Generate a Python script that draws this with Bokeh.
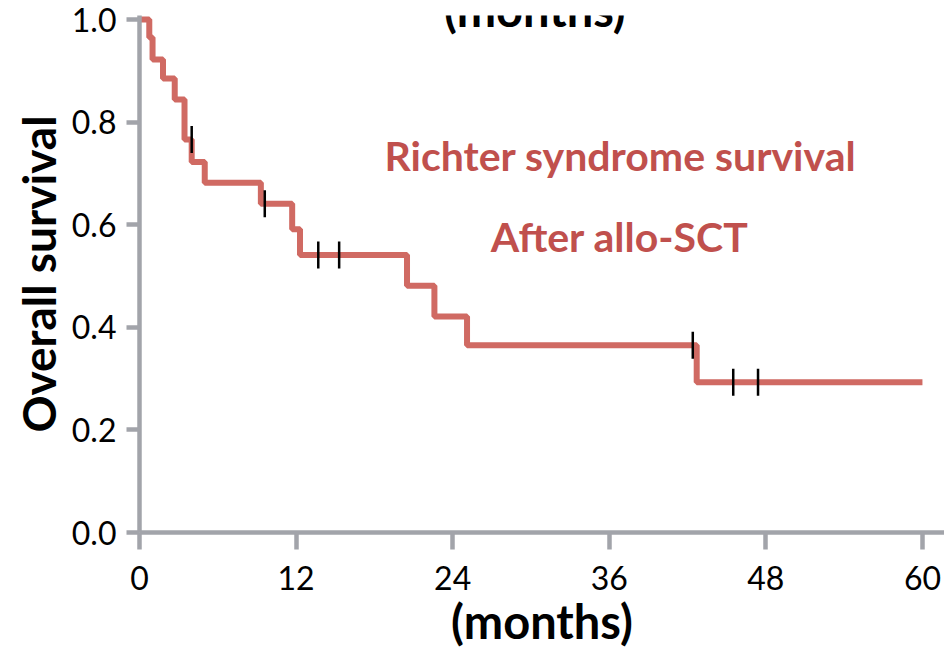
from bokeh.plotting import figure
from bokeh.models import Range1d, Label, FixedTicker
from bokeh.embed import file_html
from bokeh.resources import INLINE

# Kaplan-Meier step curve
times = [0, 0.75, 1.0, 1.8, 2.7, 3.45, 4.0, 5.0, 9.3, 11.7, 12.3, 20.5, 22.6, 25.1, 42.7, 60]
surv = [1.0, 0.965, 0.922, 0.885, 0.844, 0.766, 0.722, 0.682, 0.641, 0.591, 0.541, 0.481, 0.421, 0.365, 0.293, 0.293]

# censored observations
censor_times = [4.0, 9.6, 13.7, 15.3, 42.4, 45.5, 47.4]
censor_surv = [0.766, 0.641, 0.541, 0.541, 0.365, 0.293, 0.293]

x_ticks = [0, 12, 24, 36, 48, 60]
y_ticks = [0.0, 0.2, 0.4, 0.6, 0.8, 1.0]
y_tick_labels = ["0.0", "0.2", "0.4", "0.6", "0.8", "1.0"]

title_text = "(months)"
x_title = "(months)"
y_title = "Overall survival"
annot1 = "Richter syndrome survival"
annot2 = "After allo-SCT"

AXIS = "#A2A4AA"
LINE = "#D06A63"
TEXT_RED = "#C0504D"
FONT = "Lato"

p = figure(width=944, height=658, output_backend="svg", toolbar_location=None,
           x_range=Range1d(0, 61.69), y_range=Range1d(0, 1.0078),
           min_border_left=139, min_border_right=0, min_border_top=15, min_border_bottom=126)
p.outline_line_color = None
p.grid.visible = False
p.background_fill_color = "white"
p.border_fill_color = "white"

p.step(times, surv, mode="after", line_color=LINE, line_width=6)
p.scatter(censor_times, censor_surv, marker="dash", angle=1.5708, size=27,
          line_color="black", line_width=2.5)

for ax in (p.xaxis[0], p.yaxis[0]):
    ax.axis_line_color = AXIS
    ax.axis_line_width = 4.5
    ax.major_tick_line_color = AXIS
    ax.major_tick_line_width = 4.5
    ax.major_tick_in = 0
    ax.minor_tick_line_color = None
    ax.major_label_text_font = FONT
    ax.major_label_text_font_size = "32px"
    ax.major_label_text_color = "black"
    ax.axis_label_text_font = FONT
    ax.axis_label_text_font_style = "bold"
    ax.axis_label_text_color = "black"

p.xaxis.ticker = FixedTicker(ticks=x_ticks)
p.yaxis.ticker = FixedTicker(ticks=y_ticks)
p.yaxis.major_label_overrides = {t: l for t, l in zip(y_ticks, y_tick_labels)}
p.xaxis.major_tick_out = 17
p.yaxis.major_tick_out = 13
p.xaxis.major_label_standoff = 16
p.yaxis.major_label_standoff = 10

p.xaxis.axis_label = x_title
p.xaxis.axis_label_text_font_size = "47px"
p.xaxis.axis_label_standoff = 0
p.yaxis.axis_label = y_title
p.yaxis.axis_label_text_font_size = "46px"
p.yaxis.axis_label_standoff = 3

p.add_layout(Label(x=30.3, y=1.02, text=title_text, text_font=FONT, text_font_style="bold",
                   text_font_size="47px", text_align="center", text_baseline="alphabetic",
                   text_color="black"))
p.add_layout(Label(x=36.86, y=0.735, text=annot1, text_font=FONT, text_font_style="bold",
                   text_font_size="41px", text_align="center", text_baseline="middle",
                   text_color=TEXT_RED))
p.add_layout(Label(x=36.8, y=0.577, text=annot2, text_font=FONT, text_font_style="bold",
                   text_font_size="41px", text_align="center", text_baseline="middle",
                   text_color=TEXT_RED))

open("out.html", "w").write(file_html(p, INLINE))
